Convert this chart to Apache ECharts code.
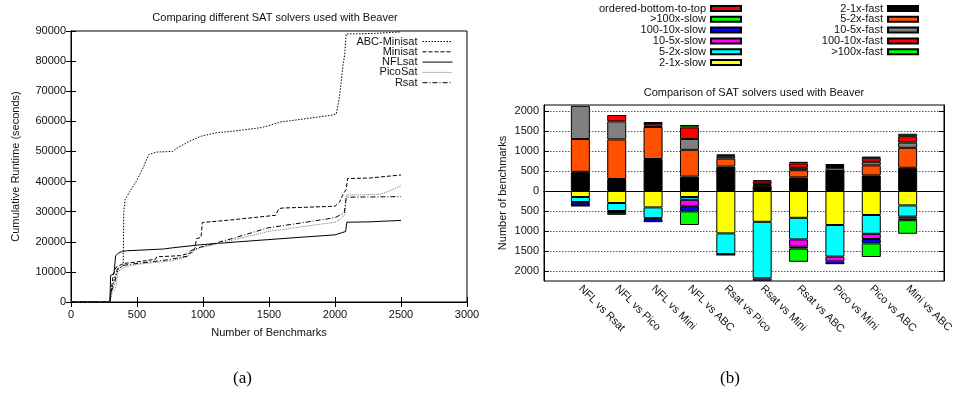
<!DOCTYPE html>
<html><head><meta charset="utf-8">
<script src="https://cdn.jsdelivr.net/npm/echarts@6/dist/echarts.min.js"></script>
<style>html,body{margin:0;padding:0;background:#fff}#c{width:956px;height:393px}</style>
</head><body><div id="c"></div>
<script>
// ---------- Panel (a): cumulative runtime ----------
const abcMinisat = [[0,0],[290,0],[300,3000],[330,8000],[360,11000],[395,12000],[400,30000],[410,34000],[450,37000],[500,40500],[550,45000],[590,49000],[600,49600],[650,49800],[770,50000],[800,51000],[880,53000],[980,55000],[1100,56200],[1240,56800],[1440,57900],[1500,58600],[1590,59800],[1750,60700],[1970,62000],[2010,62500],[2035,68500],[2060,78500],[2073,82000],[2085,89000],[2100,89000],[2300,89200],[2500,89700]];
const minisat = [[0,0],[295,0],[305,4000],[320,9000],[340,11500],[400,12800],[500,13300],[640,14200],[650,15000],[830,15400],[920,16500],[940,18000],[950,21000],[985,21500],[995,26400],[1200,27200],[1550,28800],[1575,31000],[1600,31200],[2000,31800],[2035,33200],[2060,35700],[2085,37400],[2095,41000],[2270,41200],[2280,41800],[2500,42200]];
const nflsat = [[0,0],[295,0],[300,8800],[325,9300],[335,9500],[338,15300],[360,16300],[390,16800],[420,17000],[700,17600],[770,18000],[780,18300],[980,19000],[1240,19900],[1490,20700],[1740,21500],[2000,22300],[2050,23000],[2080,23400],[2090,26500],[2250,26600],[2500,27100]];
const picosat = [[0,0],[295,0],[310,3000],[340,5000],[355,10000],[400,11500],[500,12500],[650,13200],[760,13700],[880,15000],[930,17000],[980,18000],[1240,20700],[1500,23500],[1600,24000],[1750,25000],[2000,26500],[2040,27500],[2075,29000],[2085,35500],[2350,35800],[2430,37200],[2500,38700]];
const rsat = [[0,0],[295,0],[305,3500],[330,6000],[350,11000],[400,12200],[500,12800],[730,14000],[880,15200],[905,17000],[980,18200],[1240,21300],[1490,24600],[1750,26300],[2000,28000],[2070,29600],[2085,34800],[2500,35000]];

// ---------- Panel (b): speed-up buckets ----------
const pairs = ['NFL vs Rsat','NFL vs Pico','NFL vs Mini','NFL vs ABC','Rsat vs Pico','Rsat vs Mini','Rsat vs ABC','Pico vs Mini','Pico vs ABC','Mini vs ABC'];
const fast2to1    = [480, 300, 800, 360, 610, 130, 340, 500, 390, 580];
const fast5to2    = [820, 990, 800, 670, 200, 25, 180, 70, 250, 500];
const fast10to5   = [830, 450, 40, 270, 50, 25, 60, 30, 90, 130];
const fast100to10 = [0, 160, 60, 290, 30, 60, 110, 50, 90, 160];
const fastOver100 = [0, 0, 20, 60, 20, 30, 40, 20, 40, 60];
const slow2to1    = [-150, -300, -410, -150, -1060, -770, -670, -850, -600, -360];
const slow5to2    = [-125, -200, -270, -70, -520, -1415, -540, -790, -470, -280];
const slow10to5   = [-20, -25, -25, -160, -10, -60, -180, -120, -130, -50];
const slow100to10 = [-70, -70, -75, -130, -10, 0, -50, -70, -110, -40];
const slowOver100 = [-10, 0, 0, -340, 0, 0, -330, 0, -340, -340];
const yTicksB = [-2000,-1500,-1000,-500,0,500,1000,1500,2000];

const FONT = 'Liberation Sans';
const TXT = '#111';
const chart = echarts.init(document.getElementById('c'), null, {renderer:'canvas'});

const catData = [''].concat(pairs, ['']);
function pad(arr){ return [null].concat(arr.map(v => v === 0 ? null : v), [null]); }

function barSeries(name, color, arr){
  return {name, type:'bar', xAxisIndex:2, yAxisIndex:2, stack:'b', barWidth:19,
    itemStyle:{color, borderColor:'#000', borderWidth:1}, data: pad(arr), animation:false};
}
function lineSeries(name, data, color, type){
  return {name, type:'line', xAxisIndex:0, yAxisIndex:0, data, symbol:'none', showSymbol:false,
    lineStyle:{color, width:1, type}, itemStyle:{color}, animation:false};
}
const axisLineK = {show:true, lineStyle:{color:'#000', width:1}};
const tickStyle = {show:true, inside:true, length:5, lineStyle:{color:'#000'}};
const lbl = {fontFamily:FONT, fontSize:11, color:TXT};
const plain = v => String(v);

const option = {
  animation:false,
  backgroundColor:'#fff',
  title:[
    {text:'Comparing different SAT solvers used with Beaver', left:270, top:7, textAlign:'center',
     textStyle:{fontFamily:FONT, fontSize:11, fontWeight:'normal', color:TXT}},
    {text:'Comparison of SAT solvers used with Beaver', left:749, top:82, textAlign:'center',
     textStyle:{fontFamily:FONT, fontSize:11, fontWeight:'normal', color:TXT}}
  ],
  legend:[
    {orient:'vertical', right:503, top:36, padding:0, align:'right', itemWidth:30, itemHeight:8, itemGap:-0.7,
     itemStyle:{opacity:0, borderWidth:0}, lineStyle:{width:1},
     textStyle:{fontFamily:FONT, fontSize:11, color:TXT, lineHeight:10.3},
     data:['ABC-Minisat','Minisat','NFLsat','PicoSat','Rsat']},
    {orient:'vertical', right:214, top:3, padding:0, align:'right', itemWidth:30, itemHeight:5, itemGap:-0.2, icon:'rect',
     textStyle:{fontFamily:FONT, fontSize:11, color:TXT, lineHeight:10.8},
     data:['ordered-bottom-to-top','>100x-slow','100-10x-slow','10-5x-slow','5-2x-slow','2-1x-slow']},
    {orient:'vertical', right:37, top:3, padding:0, align:'right', itemWidth:30, itemHeight:5, itemGap:-0.2, icon:'rect',
     textStyle:{fontFamily:FONT, fontSize:11, color:TXT, lineHeight:10.8},
     data:['2-1x-fast','5-2x-fast','10-5x-fast','100-10x-fast','>100x-fast']}
  ],
  grid:[
    {left:71, top:31, width:396, height:271, show:true, borderColor:'#000', borderWidth:1, backgroundColor:'transparent'},
    {left:544, top:105, width:408, height:176, show:true, borderColor:'#000', borderWidth:1, backgroundColor:'transparent'}
  ],
  xAxis:[
    {gridIndex:0, type:'value', min:0, max:3000, interval:500, axisLine:axisLineK, axisTick:tickStyle,
     splitLine:{show:false}, axisLabel:Object.assign({margin:7, formatter:plain}, lbl),
     name:'Number of Benchmarks', nameLocation:'middle', nameGap:25, nameTextStyle:lbl},
    {gridIndex:0, type:'value', position:'top', min:0, max:3000, interval:500, axisLine:axisLineK, axisTick:tickStyle,
     splitLine:{show:false}, axisLabel:{show:false}},
    {gridIndex:1, type:'category', data:catData, boundaryGap:false, axisLine:axisLineK,
     axisTick:{show:true, inside:true, length:5, interval:0, lineStyle:{color:'#000'}},
     axisLabel:Object.assign({rotate:-45, interval:0, margin:6}, lbl)}
  ],
  yAxis:[
    {gridIndex:0, type:'value', min:0, max:90000, interval:10000, axisLine:axisLineK, axisTick:tickStyle,
     splitLine:{show:false}, axisLabel:Object.assign({margin:5, formatter:plain}, lbl),
     name:'Cumulative Runtime (seconds)', nameLocation:'middle', nameGap:50, nameTextStyle:lbl},
    {gridIndex:0, type:'value', position:'right', min:0, max:90000, interval:10000, axisLine:axisLineK, axisTick:tickStyle,
     splitLine:{show:false}, axisLabel:{show:false}},
    {gridIndex:1, type:'value', min:-2250, max:2150, axisLine:axisLineK,
     axisTick:{show:true, inside:true, length:5, customValues:yTicksB, lineStyle:{color:'#000'}},
     axisLabel:Object.assign({margin:5, customValues:yTicksB, formatter:v => String(Math.abs(v))}, lbl),
     splitLine:{show:true, lineStyle:{color:'#555', type:[1.5,1.5], width:1}},
     name:'Number of benchmarks', nameLocation:'middle', nameGap:36, nameTextStyle:lbl},
    {gridIndex:1, type:'value', position:'right', min:-2250, max:2150, axisLine:axisLineK,
     axisTick:{show:true, inside:true, length:5, customValues:yTicksB, lineStyle:{color:'#000'}},
     axisLabel:{show:false}, splitLine:{show:false}}
  ],
  series:[
    lineSeries('ABC-Minisat', abcMinisat, '#000', [1.5,1.5]),
    lineSeries('Minisat', minisat, '#000', [4,2]),
    lineSeries('NFLsat', nflsat, '#000', 'solid'),
    lineSeries('PicoSat', picosat, '#777', [1,1]),
    lineSeries('Rsat', rsat, '#000', [5,2,1,2]),
    barSeries('2-1x-fast', '#000000', fast2to1),
    barSeries('5-2x-fast', '#ff4f00', fast5to2),
    barSeries('10-5x-fast', '#808080', fast10to5),
    barSeries('100-10x-fast', '#ff0000', fast100to10),
    barSeries('>100x-fast', '#00ff00', fastOver100),
    barSeries('2-1x-slow', '#ffff00', slow2to1),
    barSeries('5-2x-slow', '#00ffff', slow5to2),
    barSeries('10-5x-slow', '#ff00ff', slow10to5),
    barSeries('100-10x-slow', '#0000ff', slow100to10),
    barSeries('>100x-slow', '#00ff00', slowOver100),
    barSeries('ordered-bottom-to-top', '#ff0000', [])
  ],
  graphic:[
    {type:'text', left:233, top:370, style:{text:'(a)', font:'17px "Liberation Serif"', fill:'#000'}},
    {type:'text', left:720, top:370, style:{text:'(b)', font:'17px "Liberation Serif"', fill:'#000'}}
  ]
};
chart.setOption(option);
</script></body></html>
